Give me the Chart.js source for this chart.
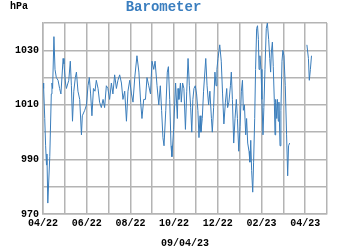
<!DOCTYPE html>
<html>
<head>
<meta charset="utf-8">
<script src="https://cdn.jsdelivr.net/npm/chart.js@4"></script>
<style>
  html, body { margin: 0; padding: 0; background: #fff; }
  #wrap { width: 350px; height: 250px; position: relative; }
</style>
</head>
<body>
<div id="wrap"><canvas id="grafico"></canvas></div>
<script>
// months since 04/22 (x position) and pressure in hPa
const mesPos = [
    0.00, 0.03, 0.08, 0.12, 0.16, 0.18, 0.22, 0.31, 0.38, 0.41, 0.44, 0.50, 0.55, 0.61, 0.69, 0.76,
    0.82, 0.92, 0.96, 1.03, 1.07, 1.18, 1.25, 1.30, 1.35, 1.41, 1.48, 1.53, 1.60, 1.68, 1.76, 1.80,
    1.91, 1.99, 2.06, 2.12, 2.18, 2.24, 2.31, 2.38, 2.44, 2.52, 2.59, 2.67, 2.75, 2.82, 2.90, 2.97,
    3.05, 3.13, 3.20, 3.28, 3.36, 3.43, 3.51, 3.59, 3.66, 3.74, 3.82, 3.89, 3.97, 4.05, 4.12, 4.20,
    4.30, 4.39, 4.47, 4.53, 4.61, 4.69, 4.76, 4.84, 4.92, 4.99, 5.07, 5.13, 5.22, 5.30, 5.37, 5.43,
    5.49, 5.54, 5.62, 5.69, 5.74, 5.80, 5.86, 5.90, 5.98, 6.07, 6.15, 6.18, 6.22, 6.29, 6.33, 6.39,
    6.45, 6.52, 6.58, 6.64, 6.70, 6.76, 6.81, 6.86, 6.91, 6.97, 7.03, 7.09, 7.14, 7.19, 7.23, 7.29,
    7.35, 7.45, 7.51, 7.58, 7.64, 7.71, 7.75, 7.81, 7.87, 7.92, 7.96, 8.01, 8.09, 8.16, 8.22, 8.28,
    8.35, 8.41, 8.45, 8.51, 8.58, 8.62, 8.67, 8.73, 8.79, 8.85, 8.90, 8.96, 9.02, 9.08, 9.13, 9.17,
    9.22, 9.28, 9.32, 9.37, 9.43, 9.47, 9.51, 9.55, 9.60, 9.64, 9.69, 9.73, 9.78, 9.82, 9.86, 9.89,
    9.93, 9.98, 10.02, 10.07, 10.11, 10.16, 10.22, 10.27, 10.33, 10.38, 10.42, 10.45, 10.50, 10.54, 10.59, 10.62,
    10.65, 10.70, 10.73, 10.77, 10.80, 10.85, 10.89, 10.94, 10.98, 11.03, 11.09, 11.15, 11.20, 11.24, 11.29, 11.70,
    12.08, 12.15, 12.19, 12.24, 12.29
];
const pressao = [
    1018, 1016, 1005, 995, 988, 992, 974, 991, 1014, 1018, 1016, 1035, 1023, 1020, 1019, 1016,
    1014, 1027, 1025, 1018, 1016, 1019, 1026, 1017, 1004, 1015, 1020, 1022, 1015, 1012, 999, 1006,
    1008, 1010, 1017, 1020, 1014, 1006, 1016, 1015, 1019, 1016, 1011, 1009, 1012, 1009, 1017, 1016,
    1012, 1018, 1014, 1021, 1016, 1019, 1021, 1018, 1012, 1015, 1004, 1015, 1019, 1014, 1011, 1020,
    1028, 1022, 1011, 1005, 1012, 1012, 1020, 1017, 1014, 1026, 1023, 1026, 1017, 1010, 1017, 1008,
    998, 995, 1008, 1022, 1024, 1012, 995, 991, 1001, 1018, 1005, 1016, 1012, 1018, 1011, 1018,
    1016, 1001, 1015, 1027, 1017, 1009, 1000, 1012, 1016, 1017, 1014, 1008, 998, 1006, 1000, 1005,
    1015, 1027, 1017, 1010, 1015, 1005, 1000, 1009, 1022, 1017, 1023, 1027, 1032, 1026, 1014, 1003,
    1011, 1016, 1009, 1011, 1017, 1022, 1012, 996, 1005, 1012, 1005, 993, 1002, 1015, 1019, 1008,
    1010, 999, 1005, 996, 993, 989, 997, 986, 978, 989, 1005, 1023, 1038, 1039, 1034, 1023,
    1028, 1023, 1012, 999, 1009, 1023, 1038, 1040, 1034, 1027, 1022, 1029, 1033, 1024, 1011, 999,
    1012, 1005, 1012, 1004, 1011, 995, 1008, 1026, 1030, 1028, 1017, 999, 984, 995, 996, null,
    1032, 1027, 1019, 1023, 1028
];
const rotulosMes = ['04/22', '06/22', '08/22', '10/22', '12/22', '02/23', '04/23'];
const rotulosY = [970, 990, 1010, 1030];
const dataLeitura = '09/04/23';

const fonteMono = '"Courier New", "Liberation Mono", monospace';
const corGrade = '#b4b4b4';

const pontos = [];
for (let i = 0; i < mesPos.length; i++) {
    pontos.push({ x: mesPos[i], y: pressao[i] });
}

// "hPa" unit in the top left corner
const unidadePlugin = {
    id: 'unidade',
    afterDraw(chart) {
        const ctx = chart.ctx;
        ctx.save();
        ctx.font = 'bold 10px ' + fonteMono;
        ctx.fillStyle = '#000';
        ctx.textBaseline = 'middle';
        ctx.textAlign = 'left';
        ctx.fillText('hPa', 10, 6);
        ctx.restore();
    }
};

const config = {
    type: 'line',
    data: {
        datasets: [{
            label: 'Barometer',
            data: pontos,
            borderColor: '#3a7dbb',
            borderWidth: 1,
            pointRadius: 0,
            tension: 0,
            spanGaps: false,
            fill: false
        }]
    },
    options: {
        responsive: true,
        maintainAspectRatio: false,
        animation: false,
        events: [],
        layout: { padding: { left: 0, right: 23, top: 0, bottom: 0 } },
        plugins: {
            legend: { display: false },
            tooltip: { enabled: false },
            title: {
                display: true,
                text: 'Barometer',
                color: '#3a7ebf',
                font: { family: fonteMono, size: 14, weight: 'bold', lineHeight: 1 },
                padding: { top: 0, bottom: 9 }
            }
        },
        scales: {
            x: {
                type: 'linear',
                min: 0,
                max: 13,
                grid: { color: corGrade, lineWidth: 1.5, drawTicks: false },
                border: { color: corGrade, width: 1.5 },
                ticks: {
                    stepSize: 1,
                    autoSkip: false,
                    maxRotation: 0,
                    padding: 3,
                    color: '#000',
                    font: { family: fonteMono, size: 10, weight: 'bold' },
                    callback: function (v) {
                        return v % 2 === 0 ? (rotulosMes[v / 2] || '') : '';
                    }
                },
                title: {
                    display: true,
                    text: dataLeitura,
                    color: '#000',
                    font: { family: fonteMono, size: 10, weight: 'bold' },
                    padding: { top: 5, bottom: 1 }
                }
            },
            y: {
                min: 970,
                max: 1040,
                afterFit: function (scale) { scale.width = 43; },
                grid: { color: corGrade, lineWidth: 1.5, drawTicks: false },
                border: { color: corGrade, width: 1.5 },
                ticks: {
                    stepSize: 10,
                    padding: 4,
                    color: '#000',
                    font: { family: fonteMono, size: 10, weight: 'bold' },
                    callback: function (v) {
                        return rotulosY.includes(v) ? String(v) : '';
                    }
                }
            }
        }
    },
    plugins: [unidadePlugin]
};

const grafico = new Chart(document.getElementById('grafico'), config);
</script>
</body>
</html>
